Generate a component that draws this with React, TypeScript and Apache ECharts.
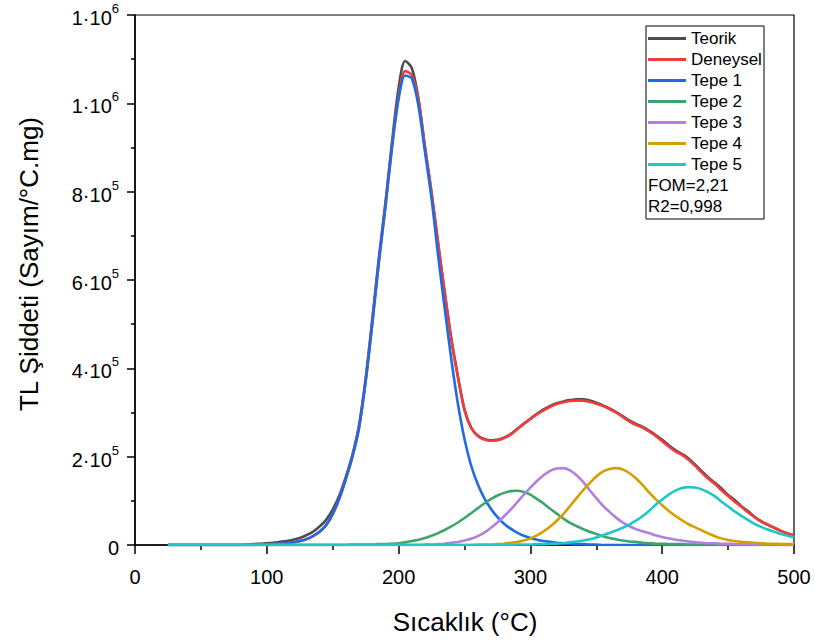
import React, { useEffect, useRef } from "react";
import * as echarts from "echarts";

// Temperature grid (°C)
const temps = [
  25, 30, 35, 40, 45, 50, 55, 60, 65, 70,
  75, 80, 85, 90, 95, 100, 105, 110, 115, 120,
  125, 130, 135, 140, 145, 150, 155, 160, 165, 170,
  175, 180, 185, 190, 195, 200, 205, 210, 215, 220,
  225, 230, 235, 240, 245, 250, 255, 260, 265, 270,
  275, 280, 285, 290, 295, 300, 305, 310, 315, 320,
  325, 330, 335, 340, 345, 350, 355, 360, 365, 370,
  375, 380, 385, 390, 395, 400, 405, 410, 415, 420,
  425, 430, 435, 440, 445, 450, 455, 460, 465, 470,
  475, 480, 485, 490, 495, 500,
];

// Intensities in units of 10^3 (Sayım/°C.mg)
const teorik = [
  0, 0, 0, 0, 0, 0, 0, 0, 0, 0,
  0, 0, 1, 2, 3, 4, 5, 7, 9, 12,
  16, 22, 30, 42, 57, 80, 112, 155, 205, 272,
  378, 510, 650, 775, 912, 1035, 1096, 1080, 1012, 900,
  795, 680, 572, 467, 382, 307, 266, 248, 240, 237,
  238, 243, 251, 263, 275, 286, 297, 307, 315, 321,
  325, 328, 330, 330, 327, 322, 316, 309, 301, 292,
  282, 274, 268, 259, 249, 238, 226, 215, 206, 196,
  182, 167, 153, 141, 128, 113, 102, 88, 77, 64,
  54, 46, 39, 32, 26, 22,
];
const deneysel = [
  0, 0, 0, 0, 0, 0, 0, 0, 0, 0,
  0, 0, 0, 0, 1, 1, 2, 3, 4, 6,
  9, 13, 20, 30, 45, 70, 105, 150, 201, 267,
  372, 502, 642, 768, 903, 1016, 1073, 1064, 1008, 902,
  800, 685, 570, 465, 380, 305, 265, 247, 239, 236,
  237, 242, 250, 262, 274, 285, 296, 305, 313, 319,
  323, 326, 327, 327, 324, 320, 315, 308, 300, 290,
  280, 272, 266, 257, 247, 235, 223, 212, 204, 193,
  179, 164, 150, 138, 124, 111, 98, 87, 74, 63,
  53, 46, 39, 32, 26, 21,
];
const tepe1 = [
  0, 0, 0, 0, 0, 0, 0, 0, 0, 0,
  0, 0, 0, 0, 1, 1, 2, 3, 4, 6,
  9, 13, 20, 30, 45, 70, 105, 150, 200, 265,
  370, 500, 640, 765, 900, 1010, 1063, 1056, 995, 890,
  785, 655, 535, 420, 320, 240, 180, 138, 106, 82,
  63, 48, 37, 28, 21, 16, 12, 9, 7, 5,
  4, 3, 2, 2, 1, 1, 0, 0, 0, 0,
  0, 0, 0, 0, 0, 0, 0, 0, 0, 0,
  0, 0, 0, 0, 0, 0, 0, 0, 0, 0,
  0, 0, 0, 0, 0, 0,
];
const tepe2 = [
  0, 0, 0, 0, 0, 0, 0, 0, 0, 0,
  0, 0, 0, 0, 0, 0, 0, 0, 0, 0,
  0, 0, 0, 0, 0, 0, 0, 0, 1, 1,
  1, 1, 2, 2, 3, 4, 6, 9, 12, 16,
  21, 27, 34, 42, 51, 61, 72, 83, 94, 104,
  112, 118, 122, 123, 120, 114, 104, 94, 82, 71,
  60, 50, 43, 36, 30, 25, 20, 16, 13, 10,
  8, 7, 5, 4, 3, 3, 2, 2, 2, 1,
  1, 1, 1, 1, 0, 0, 0, 0, 0, 0,
  0, 0, 0, 0, 0, 0,
];
const tepe3 = [
  0, 0, 0, 0, 0, 0, 0, 0, 0, 0,
  0, 0, 0, 0, 0, 0, 0, 0, 0, 0,
  0, 0, 0, 0, 0, 0, 0, 0, 0, 0,
  0, 0, 0, 0, 0, 0, 0, 0, 0, 1,
  1, 2, 3, 5, 7, 10, 14, 20, 28, 39,
  51, 65, 80, 97, 114, 130, 145, 158, 168, 173,
  174, 169, 158, 143, 124, 106, 89, 75, 62, 51,
  43, 36, 31, 27, 22, 18, 15, 12, 10, 8,
  6, 5, 4, 4, 3, 3, 2, 2, 2, 1,
  1, 1, 1, 1, 0, 0,
];
const tepe4 = [
  0, 0, 0, 0, 0, 0, 0, 0, 0, 0,
  0, 0, 0, 0, 0, 0, 0, 0, 0, 0,
  0, 0, 0, 0, 0, 0, 0, 0, 0, 0,
  0, 0, 0, 0, 0, 0, 0, 0, 0, 0,
  0, 0, 0, 0, 0, 0, 0, 1, 1, 1,
  2, 3, 5, 7, 10, 15, 22, 31, 42, 55,
  70, 88, 106, 124, 140, 155, 166, 172, 174, 171,
  163, 151, 136, 119, 104, 90, 77, 66, 56, 47,
  40, 33, 26, 20, 15, 11, 9, 7, 6, 5,
  4, 3, 3, 2, 2, 2,
];
const tepe5 = [
  0, 0, 0, 0, 0, 0, 0, 0, 0, 0,
  0, 0, 0, 0, 0, 0, 0, 0, 0, 0,
  0, 0, 0, 0, 0, 0, 0, 0, 0, 0,
  0, 0, 0, 0, 0, 0, 0, 0, 0, 0,
  0, 0, 0, 0, 0, 0, 0, 0, 0, 0,
  0, 0, 0, 1, 1, 1, 2, 2, 3, 3,
  4, 6, 8, 10, 13, 17, 22, 27, 33, 39,
  46, 55, 65, 77, 91, 103, 114, 123, 129, 131,
  130, 126, 119, 110, 98, 87, 76, 66, 57, 48,
  41, 35, 30, 25, 21, 17,
];

const seriesNames = ["Teorik", "Deneysel", "Tepe 1", "Tepe 2", "Tepe 3", "Tepe 4", "Tepe 5"];
const seriesValues = [teorik, deneysel, tepe1, tepe2, tepe3, tepe4, tepe5];
const seriesColors = ["#4d4d4d", "#f23c3c", "#1f6be3", "#3aa66c", "#b07fe0", "#d4a000", "#1ec8c8"];

const yTickValues = [0, 200, 400, 600, 800, 1000, 1200];
const yTickMantissa = ["0", "2·10", "4·10", "6·10", "8·10", "1·10", "1·10"];
const yTickExponent = ["", "5", "5", "5", "5", "6", "6"];

const fitNotes = ["FOM=2,21", "R2=0,998"];
const xTitle = "Sıcaklık (°C)";
const yTitle = "TL Şiddeti (Sayım/°C.mg)";

const FONT = '"Liberation Sans", Arial, Helvetica, sans-serif';

export default function App() {
  const ref = useRef<HTMLDivElement>(null);
  useEffect(() => {
    document.body.style.margin = "0";
    const chart = echarts.init(ref.current!, null, { renderer: "svg" });
    chart.setOption({
      animation: false,
      backgroundColor: "#ffffff",
      grid: {
        left: 135,
        right: 21,
        top: 15,
        bottom: 97,
        show: true,
        borderColor: "#000",
        borderWidth: 1.2,
        backgroundColor: "transparent",
      },
      xAxis: {
        type: "value",
        min: 0,
        max: 500,
        interval: 100,
        axisLine: { show: true, onZero: false, lineStyle: { color: "#000", width: 1.5 } },
        axisTick: { show: true, inside: false, length: 9, lineStyle: { color: "#000", width: 1.5 } },
        minorTick: { show: true, splitNumber: 2, length: 5, lineStyle: { color: "#000", width: 1.5 } },
        splitLine: { show: false },
        axisLabel: { fontSize: 20, color: "#000", fontFamily: FONT, margin: 22 },
      },
      yAxis: {
        type: "value",
        min: 0,
        max: 1200,
        interval: 200,
        axisLine: { show: true, onZero: false, lineStyle: { color: "#000", width: 1.5 } },
        axisTick: { show: true, inside: false, length: 8, lineStyle: { color: "#000", width: 1.5 } },
        minorTick: { show: true, splitNumber: 2, length: 4, lineStyle: { color: "#000", width: 1.5 } },
        splitLine: { show: false },
        axisLabel: {
          margin: 16,
          color: "#000",
          formatter: (v: number) => {
            const i = yTickValues.indexOf(Math.round(v));
            if (i < 0) return "";
            if (!yTickExponent[i]) return `{m|${yTickMantissa[i]}}`;
            return `{m|${yTickMantissa[i]}}{s|${yTickExponent[i]}}`;
          },
          rich: {
            m: { fontSize: 20, fontFamily: FONT, color: "#000", lineHeight: 26, verticalAlign: "bottom" },
            s: { fontSize: 13, fontFamily: FONT, color: "#000", lineHeight: 26, verticalAlign: "top" },
          },
        },
      },
      legend: {
        orient: "vertical",
        left: 648,
        top: 30,
        itemWidth: 38,
        itemHeight: 3,
        itemGap: 4,
        icon: "rect",
        selectedMode: false,
        padding: 0,
        textStyle: { fontSize: 17, fontFamily: FONT, color: "#000", lineHeight: 17, padding: [0, 0, 0, 0] },
        data: seriesNames,
      },
      graphic: [
        {
          type: "rect",
          shape: { x: 646, y: 26, width: 118, height: 193 },
          style: { fill: "none", stroke: "#000", lineWidth: 1 },
          z: 10,
        },
        ...fitNotes.map((t, i) => ({
          type: "text",
          x: 648,
          y: 185 + i * 21,
          z: 10,
          style: {
            text: t,
            fontSize: 17,
            fontFamily: FONT,
            fill: "#000",
            textAlign: "left",
            textVerticalAlign: "middle",
            verticalAlign: "middle",
          },
        })),
        {
          type: "text",
          x: 465,
          y: 622,
          style: {
            text: xTitle,
            fontSize: 26,
            fontFamily: FONT,
            fill: "#000",
            textAlign: "center",
            align: "center",
            textVerticalAlign: "middle",
            verticalAlign: "middle",
          },
        },
        {
          type: "text",
          x: 29,
          y: 264,
          rotation: Math.PI / 2,
          style: {
            text: yTitle,
            fontSize: 26,
            fontFamily: FONT,
            fill: "#000",
            textAlign: "center",
            align: "center",
            textVerticalAlign: "middle",
            verticalAlign: "middle",
          },
        },
      ],
      series: seriesNames.map((name, k) => ({
        name,
        type: "line",
        data: temps.map((t, i) => [t, seriesValues[k][i]]),
        showSymbol: false,
        symbol: "none",
        smooth: 0.3,
        color: seriesColors[k],
        itemStyle: { color: seriesColors[k] },
        lineStyle: { color: seriesColors[k], width: 2.6 },
        emphasis: { disabled: true },
      })),
    });
    return () => chart.dispose();
  }, []);
  return <div ref={ref} style={{ position: "fixed", left: 0, top: 0, width: 815, height: 642 }} />;
}
